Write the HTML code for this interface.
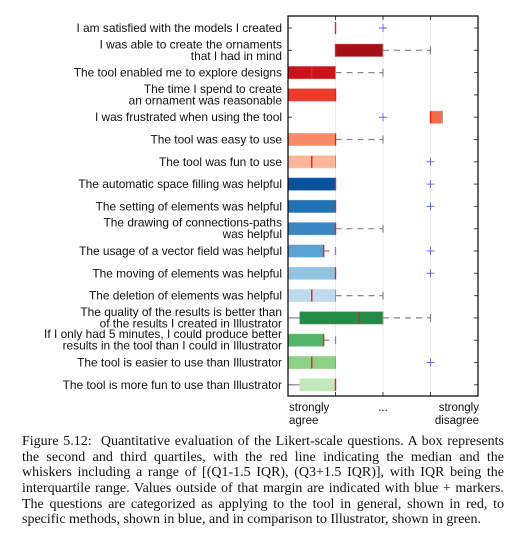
<!DOCTYPE html>
<html><head><meta charset="utf-8"><style>
body{margin:0;background:#fff;width:512px;height:543px;overflow:hidden;position:relative}
svg{position:absolute;left:0;top:0}
.cap{position:absolute;left:22px;width:482px;font-family:"Liberation Serif",serif;font-size:14px;line-height:15.7px;top:434px;color:#111}
.cap div{text-align:justify;text-align-last:justify;white-space:nowrap;height:15.7px}
.cap div.last{text-align-last:left}
</style></head><body>
<svg id="chart" width="512" height="430" xmlns="http://www.w3.org/2000/svg"></svg>
<div class="cap">
<div>Figure 5.12:&nbsp; Quantitative evaluation of the Likert-scale questions. A box represents</div>
<div>the second and third quartiles, with the red line indicating the median and the</div>
<div>whiskers including a range of [(Q1-1.5 IQR), (Q3+1.5 IQR)], with IQR being the</div>
<div>interquartile range. Values outside of that margin are indicated with blue + markers.</div>
<div>The questions are categorized as applying to the tool in general, shown in red, to</div>
<div class="last">specific methods, shown in blue, and in comparison to Illustrator, shown in green.</div>
</div>
<script>
const questions=[
["I am satisfied with the models I created"],
["I was able to create the ornaments","that I had in mind"],
["The tool enabled me to explore designs"],
["The time I spend to create","an ornament was reasonable"],
["I was frustrated when using the tool"],
["The tool was easy to use"],
["The tool was fun to use"],
["The automatic space filling was helpful"],
["The setting of elements was helpful"],
["The drawing of connections-paths","was helpful"],
["The usage of a vector field was helpful"],
["The moving of elements was helpful"],
["The deletion of elements was helpful"],
["The quality of the results is better than","of the results I created in Illustrator"],
["If I only had 5 minutes, I could produce better","results in the tool than I could in Illustrator"],
["The tool is easier to use than Illustrator"],
["The tool is more fun to use than Illustrator"]];
const q1s=[2,2,1,1,4,1,1,1,1,1,1,1,1,1.25,1,1,1.25];
const medians=[2,2,1.5,2,4,2,1.5,2,2,2,1.75,2,1.5,2.5,1.75,1.5,2];
const q3s=[2,3,2,2,4.25,2,2,2,2,2,1.75,2,2,3,1.75,2,2];
const whiskLo=[2,2,1,1,4,1,1,1,1,1,1,1,1,1,1,1,1];
const whiskHi=[2,4,3,2,4.25,3,2,2,2,3,2,2,3,4,2,2,2];
const outliers=[[3],[],[],[],[3],[],[4],[4],[4],[],[4],[4],[],[],[],[4],[]];
const colors=["#cb181d","#a50f15","#c8151b","#ef3b2c","#fb6a4a","#fc8a6a","#fcb59b","#08519c","#2171b5","#3c87c2","#5ba3d3","#92c4e0","#c1d9ef","#238b45","#55b468","#8fd089","#c2e8bc"];
const xTicks=[1,2,3,4,5];
const L=288,R=478,T=16,B=396;
const sx=v=>L+(v-1)*(R-L)/4;
const sy=i=>28+i*22.3;
const S=document.getElementById('chart');
const NS="http://www.w3.org/2000/svg";
function mk(tag,at,parent){const e=document.createElementNS(NS,tag);for(const k in at)e.setAttribute(k,at[k]);(parent||S).appendChild(e);return e;}
xTicks.slice(1,4).forEach(v=>{const g=mk('line',{x1:sx(v),x2:sx(v),y1:T,y2:B,stroke:'#ececec','stroke-width':1});

});
questions.forEach((q,i)=>{
 const y=sy(i);
 const g=mk('g',{});
 
 
 const t=mk('text',{x:282,y:q.length>1?y-2:y+4,'text-anchor':'end','font-family':'Liberation Sans, sans-serif','font-size':'11.9',fill:'#111'},g);
 
 
 q.forEach((s,k)=>{const ts=mk('tspan',{x:282,dy:k?11.5:0},t);ts.textContent=s;});
 mk('line',{x1:L,x2:L+4,y1:y,y2:y,stroke:'#444'},g);
 mk('line',{x1:R-4,x2:R,y1:y,y2:y,stroke:'#444'},g);
 if(whiskHi[i]>q3s[i]){mk('line',{x1:sx(q3s[i]),x2:sx(whiskHi[i]),y1:y,y2:y,stroke:'#888','stroke-width':1.2,'stroke-dasharray':'6,5'},g);
  mk('line',{x1:sx(whiskHi[i]),x2:sx(whiskHi[i]),y1:y-4,y2:y+4,stroke:'#888','stroke-width':1.2},g);}
 if(whiskLo[i]<q1s[i]){mk('line',{x1:sx(whiskLo[i]),x2:sx(q1s[i]),y1:y,y2:y,stroke:'#888','stroke-width':1.2},g);}
 if(q3s[i]>q1s[i]){const r=mk('rect',{x:sx(q1s[i]),y:y-6,width:sx(q3s[i])-sx(q1s[i]),height:12,fill:colors[i],stroke:colors[i],'stroke-opacity':0.6},g);
  
  
  mk('line',{x1:sx(q3s[i]),x2:sx(q3s[i]),y1:y-6,y2:y+6,stroke:'#999','stroke-width':1},g);}
 const m=mk('line',{x1:sx(medians[i]),x2:sx(medians[i]),y1:y-6,y2:y+6,stroke:'#e8231b','stroke-width':1.4},g);
 
 
 outliers[i].forEach(o=>{const p=mk('path',{d:`M${sx(o)-4},${y}h8M${sx(o)},${y-4}v8`,stroke:'#6a6aff','stroke-width':1},g);
  
  });
});
xTicks.slice(1,4).forEach(v=>{mk('line',{x1:sx(v),x2:sx(v),y1:B-4,y2:B,stroke:'#444'});mk('line',{x1:sx(v),x2:sx(v),y1:T,y2:T+4,stroke:'#444'});});
const fr=mk('rect',{x:L,y:T,width:R-L,height:B-T,fill:'none',stroke:'#000','stroke-width':1.2});


function lab(x,y,s,a,n){const e=mk('text',{x:x,y:y,'text-anchor':a,'font-family':'Liberation Sans, sans-serif','font-size':'11.5',fill:'#111'});e.textContent=s;
 
 }
lab(289,411,'strongly','start','x-label-agree');lab(289,424,'agree','start','x-label-agree-2');
lab(383,411,'...','middle','x-label-neutral');
lab(479,411,'strongly','end','x-label-disagree');lab(479,424,'disagree','end','x-label-disagree-2');
</script>
</body></html>
